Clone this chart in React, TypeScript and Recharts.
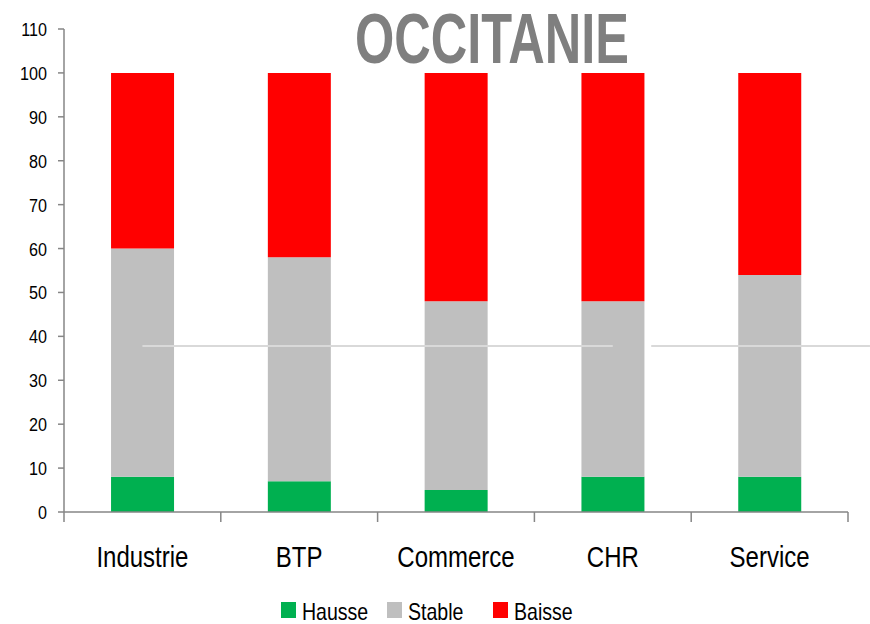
import React from 'react';
import { BarChart, Bar, XAxis, YAxis, ReferenceLine } from 'recharts';

const categories = ['Industrie', 'BTP', 'Commerce', 'CHR', 'Service'];
const hausse = [8, 7, 5, 8, 8];
const stable = [52, 51, 43, 40, 46];
const baisse = [40, 42, 52, 52, 46];
const yTicks = [0, 10, 20, 30, 40, 50, 60, 70, 80, 90, 100, 110];
const lineLevel = 37.8;
const title = 'OCCITANIE';

const seriesNames = ['Hausse', 'Stable', 'Baisse'];
const seriesColors = ['#00B050', '#BFBFBF', '#FF0000'];

const data = categories.map((c, i) => ({
  name: c,
  Hausse: hausse[i],
  Stable: stable[i],
  Baisse: baisse[i],
}));

const FONT = '"Liberation Sans", Arial, sans-serif';
const AXIS = '#868686';
const SX = 0.8;

const XTick = (props: any) => {
  const { x, y, payload, index, visibleTicksCount } = props;
  const off = payload.offset || 0;
  const last = index === (visibleTicksCount ?? categories.length) - 1;
  return (
    <g>
      <line x1={x - off} y1={y} x2={x - off} y2={y + 10} stroke={AXIS} strokeWidth={1.5} />
      {last && <line x1={x + off} y1={y} x2={x + off} y2={y + 10} stroke={AXIS} strokeWidth={1.5} />}
      <text
        transform={`translate(${x},${y + 55}) scale(${SX},1)`}
        textAnchor="middle"
        fontFamily={FONT}
        fontSize={30}
        fill="#000"
      >
        {payload.value}
      </text>
    </g>
  );
};

const YTick = (props: any) => {
  const { x, y, payload } = props;
  return (
    <text
      transform={`translate(${x},${y + 7}) scale(0.85,1)`}
      textAnchor="end"
      fontFamily={FONT}
      fontSize={19}
      fill="#000"
    >
      {payload.value}
    </text>
  );
};

const SecondSegment = (props: any) => {
  const { x1, y1, x2, y2 } = props;
  const band = x2 - x1;
  return (
    <line x1={x1 + band * 0.245} y1={y1} x2={x2 + band * 0.64} y2={y2} stroke="#d9d9d9" strokeWidth={2} />
  );
};

const LEGEND_X = 281;
const LEGEND_PITCH = 106;
const LEGEND_Y = 602;

export default function App() {
  return (
    <div style={{ position: 'absolute', left: 0, top: 0, width: 870, height: 624, background: '#fff' }}>
      <BarChart
        width={870}
        height={624}
        data={data}
        margin={{ top: 29, right: 22, bottom: 82, left: 4 }}
        barCategoryGap="30%"
      >
        <text
          x={492}
          y={63}
          textAnchor="middle"
          fontFamily={FONT}
          fontWeight="bold"
          fontSize={70}
          fill="#7f7f7f"
          textLength={274}
          lengthAdjust="spacingAndGlyphs"
        >
          {title}
        </text>
        <XAxis
          dataKey="name"
          height={30}
          axisLine={{ stroke: AXIS, strokeWidth: 1.5 }}
          tickLine={false}
          tickSize={0}
          tickMargin={0}
          tick={<XTick />}
          interval={0}
        />
        <YAxis
          width={60}
          domain={[0, 110]}
          ticks={yTicks}
          interval={0}
          axisLine={{ stroke: AXIS, strokeWidth: 1.5 }}
          tickLine={{ stroke: AXIS, strokeWidth: 1.5 }}
          tickSize={6}
          tickMargin={11}
          tick={<YTick />}
        />
        <Bar dataKey="Hausse" stackId="a" fill={seriesColors[0]} isAnimationActive={false} />
        <Bar dataKey="Stable" stackId="a" fill={seriesColors[1]} isAnimationActive={false} />
        <Bar dataKey="Baisse" stackId="a" fill={seriesColors[2]} isAnimationActive={false} />
        <ReferenceLine
          segment={[{ x: 'Industrie', y: lineLevel }, { x: 'CHR', y: lineLevel }]}
          stroke="#d9d9d9"
          strokeWidth={2}
        />
        <ReferenceLine
          segment={[{ x: 'CHR', y: lineLevel }, { x: 'Service', y: lineLevel }]}
          ifOverflow="visible"
          shape={<SecondSegment />}
        />
        <g>
          {seriesNames.map((n, i) => {
            const lx = LEGEND_X + i * LEGEND_PITCH;
            return (
              <g key={n}>
                <rect x={lx} y={LEGEND_Y} width={15} height={16} fill={seriesColors[i]} />
                <text
                  transform={`translate(${lx + 21},${LEGEND_Y + 18}) scale(0.85,1)`}
                  fontFamily={FONT}
                  fontSize={23}
                  fill="#000"
                >
                  {n}
                </text>
              </g>
            );
          })}
        </g>
      </BarChart>
    </div>
  );
}
